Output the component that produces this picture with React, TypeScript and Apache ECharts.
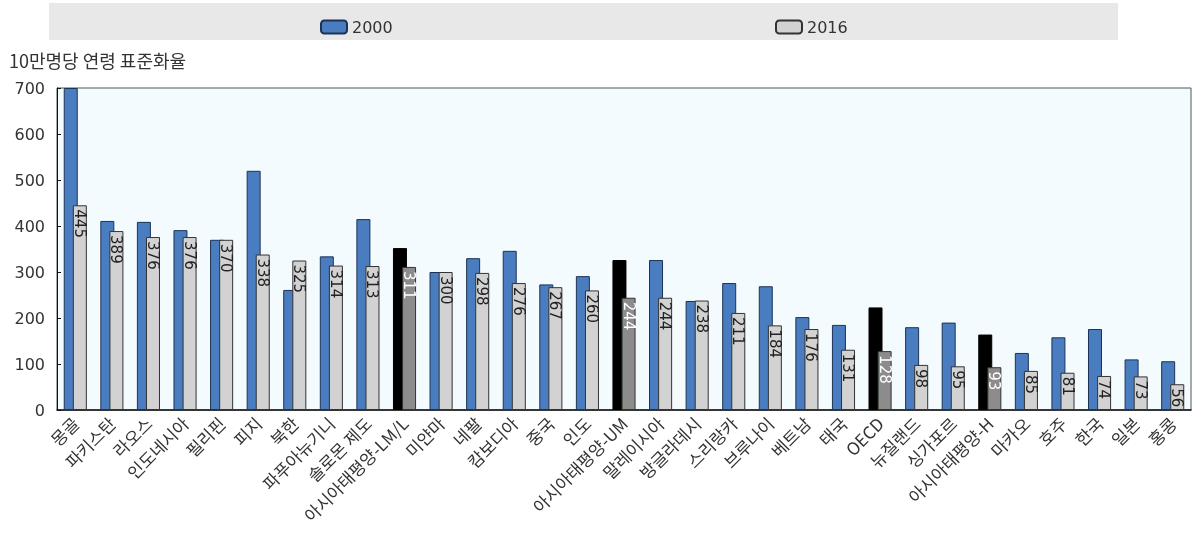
import React, { useEffect, useRef } from "react";
import * as echarts from "echarts";

const categories = ["몽골","파키스탄","라오스","인도네시아","필리핀","피지","북한","파푸아뉴기니","솔로몬 제도","아시아태평양-LM/L","미얀마","네팔","캄보디아","중국","인도","아시아태평양-UM","말레이시아","방글라데시","스리랑카","브루나이","베트남","태국","OECD","뉴질랜드","싱가포르","아시아태평양-H","마카오","호주","한국","일본","홍콩"];
const values2000 = [700, 411, 409, 391, 370, 520, 261, 334, 415, 352, 300, 330, 346, 273, 291, 326, 326, 237, 276, 269, 202, 185, 223, 180, 190, 164, 124, 158, 176, 110, 106];
const values2016 = [445, 389, 376, 376, 370, 338, 325, 314, 313, 311, 300, 298, 276, 267, 260, 244, 244, 238, 211, 184, 176, 131, 128, 98, 95, 93, 85, 81, 74, 73, 56];
const aggregates = ["아시아태평양-LM/L", "아시아태평양-UM", "OECD", "아시아태평양-H"];
const yTicks = [0, 100, 200, 300, 400, 500, 600, 700];

const NUM_FONT = "'DejaVu Sans', 'Noto Sans CJK KR', sans-serif";
const KR_FONT = "'Noto Sans CJK KR', 'DejaVu Sans', sans-serif";

export default function App() {
  const ref = useRef<HTMLDivElement>(null);
  useEffect(() => {
    if (!ref.current) return;
    const chart = echarts.init(ref.current, null, { renderer: "svg" });
    const d2000 = values2000.map((v, i) => {
      const agg = aggregates.includes(categories[i]);
      return {
        value: v,
        itemStyle: agg ? { color: "#000000", borderColor: "#000000" } : undefined,
      };
    });
    const d2016 = values2016.map((v, i) => {
      const agg = aggregates.includes(categories[i]);
      return {
        value: v,
        itemStyle: agg ? { color: "#8c8c8c", borderColor: "#333333" } : undefined,
        label: agg ? { color: "#ffffff" } : undefined,
      };
    });
    chart.setOption({
      animation: false,
      textStyle: { fontFamily: NUM_FONT },
      graphic: [
        { type: "rect", shape: { x: 49, y: 3, width: 1069, height: 37 }, style: { fill: "#e8e8e8" }, z: -10 },
        { type: "text", left: 9, top: 51, style: { text: "10만명당 연령 표준화율", font: `18px ${KR_FONT}`, fill: "#333" } },
      ],
      legend: [
        { data: ["2000"], left: 315, top: 14, itemWidth: 26, itemHeight: 13, textStyle: { fontSize: 16, color: "#333", fontFamily: NUM_FONT } },
        { data: ["2016"], left: 770, top: 14, itemWidth: 26, itemHeight: 13, textStyle: { fontSize: 16, color: "#333", fontFamily: NUM_FONT } },
      ],
      grid: {
        left: 57, right: 6, top: 88, bottom: 136,
        show: true, backgroundColor: "#f4fbfe", borderColor: "#555", borderWidth: 1,
      },
      xAxis: {
        type: "category",
        data: categories,
        axisLine: { lineStyle: { color: "#111", width: 1.5 } },
        axisTick: { inside: true, length: 4, lineStyle: { color: "#111" } },
        axisLabel: { rotate: 45, fontSize: 17, color: "#333", margin: 10, interval: 0, fontFamily: KR_FONT },
      },
      yAxis: {
        type: "value",
        min: yTicks[0],
        max: yTicks[yTicks.length - 1],
        interval: 100,
        splitLine: { show: false },
        axisLine: { show: true, lineStyle: { color: "#111" } },
        axisTick: { show: true, inside: true, length: 4, lineStyle: { color: "#111" } },
        axisLabel: { fontSize: 16, color: "#333", margin: 12, fontFamily: NUM_FONT },
      },
      series: [
        {
          name: "2000",
          type: "bar",
          data: d2000,
          barWidth: 14,
          barGap: "-35%",
          itemStyle: { color: "#4a7cc0", borderColor: "#1c3357", borderWidth: 1 },
        },
        {
          name: "2016",
          type: "bar",
          data: d2016,
          barWidth: 14,
          itemStyle: { color: "#d2d2d2", borderColor: "#333333", borderWidth: 1 },
          label: {
            show: true,
            position: "insideTop",
            rotate: -90,
            align: "left",
            verticalAlign: "middle",
            distance: 4,
            fontSize: 15,
            color: "#222",
            fontFamily: NUM_FONT,
          },
        },
      ],
    });
    return () => chart.dispose();
  }, []);
  return <div ref={ref} style={{ position: "fixed", left: 0, top: 0, width: 1197, height: 546 }} />;
}
